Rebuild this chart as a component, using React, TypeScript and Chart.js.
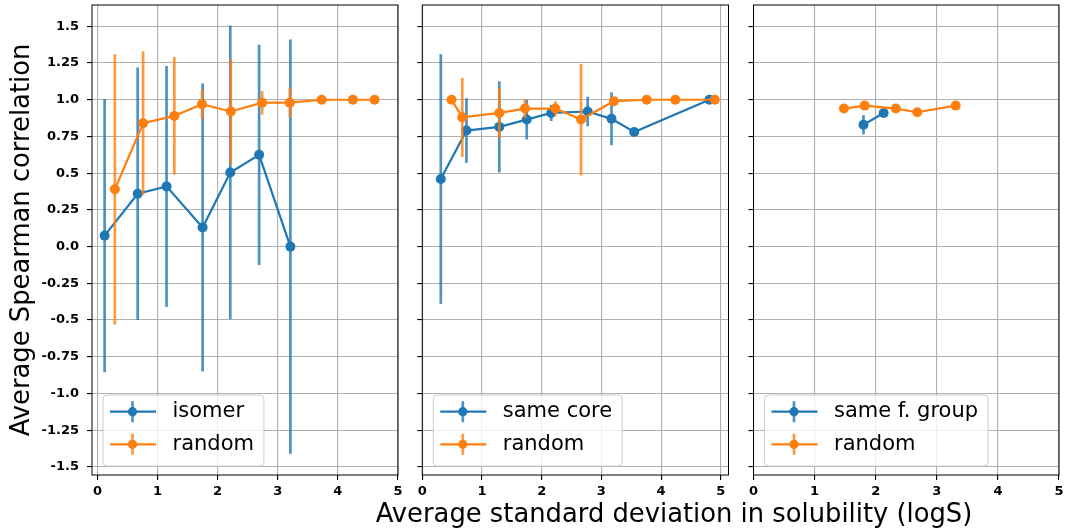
import React, { useEffect, useRef } from "react";
import { Chart, registerables } from "chart.js";

Chart.register(...registerables);
Chart.defaults.font.family = '"DejaVu Sans", sans-serif';

// ---------------- data ----------------
const isomerX = [0.12, 0.67, 1.15, 1.75, 2.21, 2.69, 3.21];
const isomerY = [0.075, 0.36, 0.41, 0.13, 0.505, 0.625, 0.0];
const isomerErr = [0.93, 0.86, 0.82, 0.98, 1.0, 0.75, 1.41];

const random1X = [0.29, 0.76, 1.28, 1.74, 2.22, 2.74, 3.2, 3.73, 4.25, 4.61];
const random1Y = [0.39, 0.84, 0.89, 0.97, 0.92, 0.98, 0.98, 1.0, 1.0, 1.0];
const random1Err = [0.92, 0.49, 0.4, 0.1, 0.36, 0.08, 0.1, 0, 0, 0];

const coreX = [0.31, 0.74, 1.29, 1.75, 2.16, 2.77, 3.17, 3.55, 4.81];
const coreY = [0.46, 0.79, 0.815, 0.865, 0.91, 0.92, 0.87, 0.78, 1.0];
const coreErr = [0.85, 0.22, 0.31, 0.135, 0.055, 0.1, 0.18, 0, 0.01];

const random2X = [0.49, 0.67, 1.29, 1.72, 2.23, 2.66, 3.21, 3.76, 4.24, 4.9];
const random2Y = [1.0, 0.88, 0.91, 0.94, 0.94, 0.865, 0.99, 1.0, 1.0, 1.0];
const random2Err = [0, 0.27, 0.17, 0.065, 0.05, 0.38, 0, 0, 0, 0];

const groupX = [1.8, 2.13];
const groupY = [0.83, 0.91];
const groupErr = [0.065, 0.02];

const random3X = [1.48, 1.82, 2.33, 2.68, 3.31];
const random3Y = [0.94, 0.96, 0.94, 0.915, 0.96];
const random3Err = [0, 0, 0, 0.03, 0];

const xTickValues = [0, 1, 2, 3, 4, 5];
const xTickLabels = ["0", "1", "2", "3", "4", "5"];
const yTickValues = [-1.5, -1.25, -1.0, -0.75, -0.5, -0.25, 0, 0.25, 0.5, 0.75, 1.0, 1.25, 1.5];
const yTickLabels = ["-1.5", "-1.25", "-1.0", "-0.75", "-0.5", "-0.25", "0.0", "0.25", "0.5", "0.75", "1.0", "1.25", "1.5"];

const seriesNames = ["isomer", "same core", "same f. group"];
const randomName = "random";
const xTitle = "Average standard deviation in solubility (logS)";
const yTitle = "Average Spearman correlation";

// ---------------- styles ----------------
const BLUE = "#1f77b4";
const ORANGE = "#ff7f0e";
const BLUE_ERR = "rgba(31,119,180,0.8)";
const ORANGE_ERR = "rgba(255,127,14,0.8)";
const Y_MIN = -1.555;
const Y_MAX = 1.645;

const zip = (xs: number[], ys: number[]) => xs.map((x, i) => ({ x, y: ys[i] }));

const errorBarPlugin = {
  id: "errBars",
  beforeDatasetDraw(chart: any, args: any) {
    const ds = chart.data.datasets[args.index];
    const errs: number[] = ds.yErr;
    if (!errs) return;
    const ys = chart.scales.y;
    const ctx = chart.ctx;
    ctx.save();
    ctx.strokeStyle = ds.errColor;
    ctx.lineWidth = 2.7;
    args.meta.data.forEach((pt: any, i: number) => {
      const e = errs[i];
      if (!e) return;
      const v = ds.data[i].y;
      ctx.beginPath();
      ctx.moveTo(pt.x, ys.getPixelForValue(v + e));
      ctx.lineTo(pt.x, ys.getPixelForValue(v - e));
      ctx.stroke();
    });
    ctx.restore();
  },
};

const frameLegendPlugin = {
  id: "frameLegend",
  afterDraw(chart: any, _args: any, opts: any) {
    const ctx = chart.ctx;
    const a = chart.chartArea;
    ctx.save();
    ctx.strokeStyle = "#000";
    ctx.lineWidth = 1;
    ctx.strokeRect(a.left, a.top, a.right - a.left, a.bottom - a.top);

    const items = opts.items as { text: string; color: string; err: string }[];
    if (items && items.length) {
      ctx.font = '21px "DejaVu Sans", sans-serif';
      const tw = Math.max(...items.map((it) => ctx.measureText(it.text).width));
      const boxL = a.left + 11;
      const boxH = 71;
      const boxT = a.bottom - 9 - boxH;
      const boxW = 69.5 + tw + 10;
      ctx.beginPath();
      (ctx as any).roundRect(boxL, boxT, boxW, boxH, 4);
      ctx.fillStyle = "rgba(255,255,255,0.8)";
      ctx.fill();
      ctx.strokeStyle = "#cccccc";
      ctx.lineWidth = 1;
      ctx.stroke();
      const rows = [boxT + 16.7, boxT + 49.3];
      items.forEach((it, i) => {
        const y = rows[i];
        ctx.strokeStyle = it.err;
        ctx.lineWidth = 2.7;
        ctx.beginPath();
        ctx.moveTo(boxL + 29.5, y - 10.5);
        ctx.lineTo(boxL + 29.5, y + 10.5);
        ctx.stroke();
        ctx.strokeStyle = it.color;
        ctx.lineWidth = 2.2;
        ctx.beginPath();
        ctx.moveTo(boxL + 7, y);
        ctx.lineTo(boxL + 53, y);
        ctx.stroke();
        ctx.fillStyle = it.color;
        ctx.beginPath();
        ctx.arc(boxL + 29.5, y, 4.6, 0, Math.PI * 2);
        ctx.fill();
        ctx.fillStyle = "#000";
        ctx.textBaseline = "middle";
        ctx.textAlign = "left";
        ctx.fillText(it.text, boxL + 69.5, y);
      });
    }
    ctx.restore();
  },
};

type PanelProps = {
  left: number;
  width: number;
  yWidth: number;
  rightPad: number;
  xMin: number;
  xMax: number;
  showYLabels: boolean;
  name: string;
  bx: number[];
  by: number[];
  be: number[];
  ox: number[];
  oy: number[];
  oe: number[];
};

function Panel(p: PanelProps) {
  const ref = useRef<HTMLCanvasElement>(null);
  useEffect(() => {
    if (!ref.current) return;
    const ds = (data: any[], color: string, errColor: string, yErr: number[], order: number) => ({
      data,
      showLine: true,
      borderColor: color,
      backgroundColor: color,
      pointBackgroundColor: color,
      pointBorderColor: color,
      pointBorderWidth: 0,
      pointRadius: 5,
      borderWidth: 2.2,
      order,
      yErr,
      errColor,
    });
    const chart = new Chart(ref.current, {
      type: "scatter",
      data: {
        datasets: [
          ds(zip(p.bx, p.by), BLUE, BLUE_ERR, p.be, 1) as any,
          ds(zip(p.ox, p.oy), ORANGE, ORANGE_ERR, p.oe, 0) as any,
        ],
      },
      options: {
        animation: false,
        responsive: false,
        devicePixelRatio: 1,
        layout: { padding: { left: 0, top: 4, right: p.rightPad, bottom: 0 } },
        plugins: {
          legend: { display: false },
          tooltip: { enabled: false },
          frameLegend: {
            items: [
              { text: p.name, color: BLUE, err: BLUE_ERR },
              { text: randomName, color: ORANGE, err: ORANGE_ERR },
            ],
          },
        } as any,
        scales: {
          x: {
            type: "linear",
            min: p.xMin,
            max: p.xMax,
            afterBuildTicks: (s: any) => {
              s.ticks = xTickValues.map((v) => ({ value: v }));
            },
            afterFit: (s: any) => {
              s.height = 54;
              s.paddingLeft = 0;
              s.paddingRight = 0;
            },
            border: { display: false },
            grid: { color: "#b0b0b0", lineWidth: 1.1, tickColor: "#000", tickLength: 5, drawTicks: true },
            ticks: {
              autoSkip: false,
              maxRotation: 0,
              padding: 4,
              color: "#000",
              font: { size: 13, weight: "bold" },
              callback: (_v: any, i: number) => xTickLabels[i],
            },
          },
          y: {
            type: "linear",
            min: Y_MIN,
            max: Y_MAX,
            afterBuildTicks: (s: any) => {
              s.ticks = yTickValues.map((v) => ({ value: v }));
            },
            afterFit: (s: any) => {
              s.width = p.yWidth;
              s.paddingTop = 0;
              s.paddingBottom = 0;
            },
            border: { display: false },
            grid: { color: "#b0b0b0", lineWidth: 1.1, tickColor: "#000", tickLength: 5, drawTicks: true },
            ticks: {
              autoSkip: false,
              padding: 8,
              color: "#000",
              font: { size: 13, weight: "bold" },
              callback: (_v: any, i: number) => (p.showYLabels ? yTickLabels[i] : ""),
            },
          },
        },
      },
      plugins: [errorBarPlugin, frameLegendPlugin],
    });
    return () => chart.destroy();
  }, []);
  return (
    <canvas
      ref={ref}
      width={p.width}
      height={529}
      style={{ position: "absolute", left: p.left, top: 0, width: p.width, height: 529 }}
    />
  );
}

export default function App() {
  return (
    <div
      style={{
        position: "fixed",
        left: 0,
        top: 0,
        width: 1067,
        height: 529,
        background: "#fff",
        overflow: "hidden",
        fontFamily: '"DejaVu Sans", sans-serif',
      }}
    >
      <Panel
        left={0}
        width={405}
        yWidth={92}
        rightPad={7}
        xMin={-0.09}
        xMax={5}
        showYLabels={true}
        name={seriesNames[0]}
        bx={isomerX}
        by={isomerY}
        be={isomerErr}
        ox={random1X}
        oy={random1Y}
        oe={random1Err}
      />
      <Panel
        left={410}
        width={330}
        yWidth={12.3}
        rightPad={11.5}
        xMin={0}
        xMax={5.13}
        showYLabels={false}
        name={seriesNames[1]}
        bx={coreX}
        by={coreY}
        be={coreErr}
        ox={random2X}
        oy={random2Y}
        oe={random2Err}
      />
      <Panel
        left={741}
        width={326}
        yWidth={12.5}
        rightPad={8}
        xMin={0}
        xMax={5}
        showYLabels={false}
        name={seriesNames[2]}
        bx={groupX}
        by={groupY}
        be={groupErr}
        ox={random3X}
        oy={random3Y}
        oe={random3Err}
      />
      <div
        style={{
          position: "absolute",
          left: 674,
          top: 497.8,
          transform: "translateX(-50%)",
          whiteSpace: "nowrap",
          fontSize: 25.8,
          lineHeight: "30px",
          color: "#000",
        }}
      >
        {xTitle}
      </div>
      <div
        style={{
          position: "absolute",
          left: 20 - 250,
          top: 239.5 - 15,
          width: 500,
          height: 30,
          textAlign: "center",
          transform: "rotate(-90deg)",
          transformOrigin: "50% 50%",
          whiteSpace: "nowrap",
          fontSize: 25.8,
          lineHeight: "30px",
          color: "#000",
        }}
      >
        {yTitle}
      </div>
    </div>
  );
}
